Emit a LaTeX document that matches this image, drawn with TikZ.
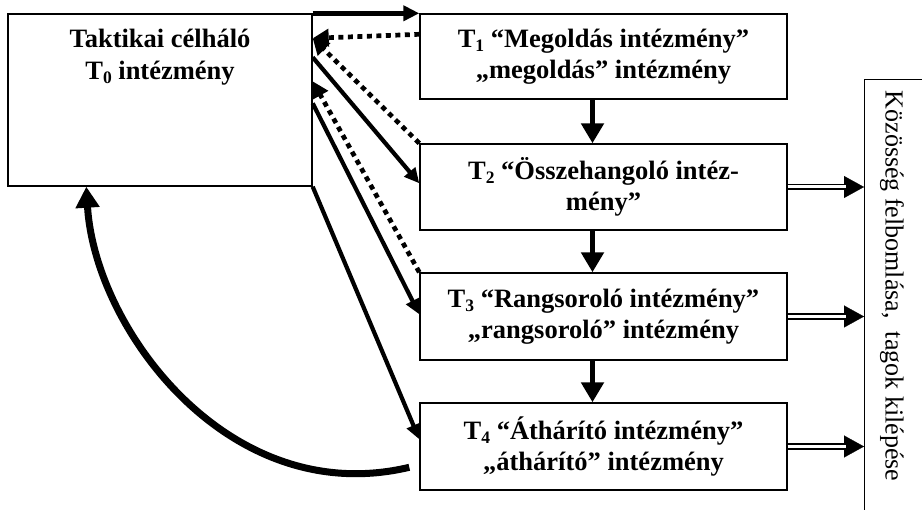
\documentclass[tikz,border=0pt]{standalone}
\usepackage{fontspec}
\setmainfont{Liberation Serif}
\usetikzlibrary{arrows.meta,calc}
\newcommand\Tsb[1]{T\raisebox{-4pt}{\fontsize{17.5}{17.5}\selectfont #1}}
\begin{document}
\begin{tikzpicture}[x=1pt,y=-1pt,
  box/.style={draw,line width=1.4pt,rectangle,inner sep=0pt,minimum width=367pt},
  btxt/.style={font=\fontsize{26.5}{31.5}\selectfont\bfseries,align=center},
  solidarr/.style={line width=4.2pt,-{Triangle[length=15pt,width=14pt]}},
  dotarr/.style={line width=4.7pt,dash pattern=on 5pt off 4.5pt,-{Triangle[length=16pt,width=17pt]}},
  vertarr/.style={line width=5.5pt,-{Triangle[length=20pt,width=22pt]}},
  dbl/.style={double,double distance=3pt,line width=1.7pt,shorten >=18pt},
  dblhead/.style={line width=0.2pt,-{Triangle[length=20pt,width=22pt]}}]
\useasboundingbox (0,0) rectangle (922,510);
\clip (0,0) rectangle (922,510);
% boxes
\node[draw,line width=1.4pt,rectangle,minimum width=304pt,minimum height=172pt] (T0) at (160,100) {};
\node[btxt,anchor=north,inner sep=3pt] (T0t) at ($(T0.north)+(0,13)$) {Taktikai célháló\\\Tsb{0} intézmény};
\node[box,minimum height=85pt,btxt] (T1) at (603.5,56.5) {\Tsb{1} “Megoldás intézmény”\\„megoldás” intézmény};
\node[box,minimum height=86pt,btxt] (T2) at (603.5,187) {\Tsb{2} “Összehangoló intéz-\\mény”};
\node[box,minimum height=87pt,btxt] (T3) at (603.5,316.5) {\Tsb{3} “Rangsoroló intézmény”\\„rangsoroló” intézmény};
\node[box,minimum height=87pt,btxt] (T4) at (603.5,446.5) {\Tsb{4} “Áthárító intézmény”\\„áthárító” intézmény};
\node[draw,line width=1.4pt,rectangle,anchor=north west,minimum width=80pt,minimum height=470pt] (R) at (864,79) {};
\node[rotate=-90,font=\fontsize{26}{31}\selectfont] (Rt) at (892,286) {Közösség felbomlása,\ \ tagok kilépése};
% points on T0's right side
\coordinate (a1) at ($(T0.north east)+(0,25)$);
\coordinate (a2) at ($(T0.north east)+(0,44)$);
\coordinate (a3) at ($(T0.north east)+(0,68)$);
\coordinate (a4) at ($(T0.north east)+(0,90)$);
\coordinate (b1) at ($(T1.north west)+(0,21)$);
\coordinate (b2) at ($(T2.north west)+(0,40)$);
\coordinate (b3) at ($(T3.north west)+(0,42)$);
\coordinate (b4) at ($(T4.north west)+(0,37)$);
\coordinate (c4) at ($(T4.north west)+(-10,65)$);
\coordinate (c0) at ($(T0.south west)+(79,0)$);
% connectors
\draw[line width=5pt,-{Triangle[length=16pt,width=15pt]}] (T0.north east) -- (T1.north west);
\draw[dotarr] (b1) -- (a1);
\draw[dotarr] (T2.north west) -- (a1);
\draw[solidarr] (a2) -- (b2);
\draw[dotarr] (T3.north west) -- (a3);
\draw[solidarr] (a4) -- (b3);
\draw[solidarr] (T0.south east) -- (b4);
\draw[line width=7pt,-{Triangle[length=21pt,width=23pt]}] (c4) .. controls (230,510) and (95,330) .. (c0);
\draw[vertarr] ([xshift=-11pt]T1.south) -- ([xshift=-11pt]T2.north);
\draw[vertarr] ([xshift=-11pt]T2.south) -- ([xshift=-11pt]T3.north);
\draw[vertarr] ([xshift=-11pt]T3.south) -- ([xshift=-11pt]T4.north);
\foreach \t in {T2,T3,T4}{
  \draw[dblhead] (\t.east) -- (\t.east -| R.west);
  \draw[dbl] (\t.east) -- (\t.east -| R.west);
}
\end{tikzpicture}
\end{document}
